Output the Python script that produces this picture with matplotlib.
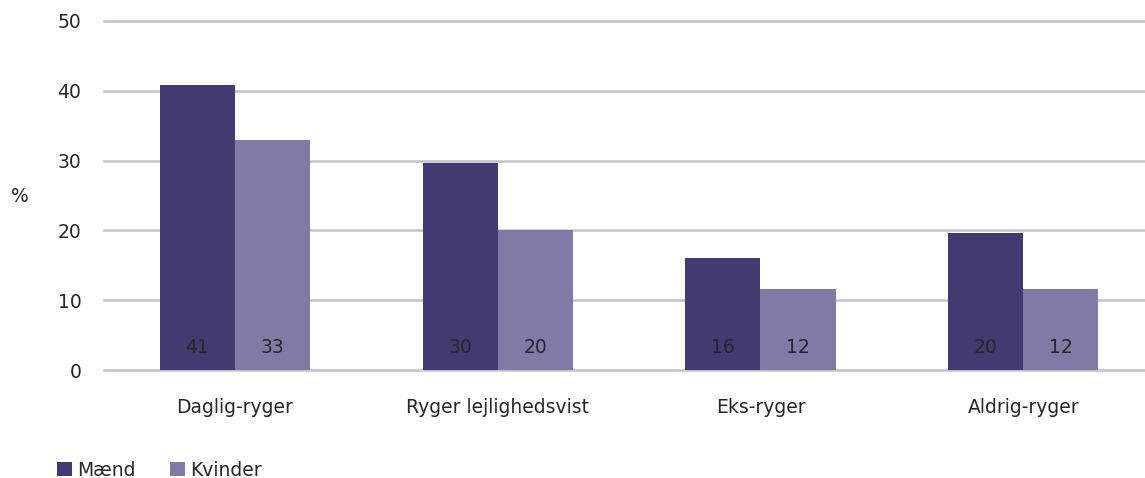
import matplotlib.pyplot as plt
import numpy as np

categories = ["Daglig-ryger", "Ryger lejlighedsvist", "Eks-ryger", "Aldrig-ryger"]
maend = [40.8, 29.7, 16.0, 19.6]
kvinder = [33.0, 20.0, 11.6, 11.6]
maend_labels = ["41", "30", "16", "20"]
kvinder_labels = ["33", "20", "12", "12"]

c_m = "#433a72"
c_k = "#7f7ba6"
txt = "#262626"
grid = "#c0c4ca"

plt.rcParams['font.family'] = ['DejaVu Sans']

fig = plt.figure(figsize=(11.45, 4.78), dpi=100)
ax = fig.add_axes([103.6 / 1145, 1 - 370 / 478, 1051 / 1145, 349 / 478])

x = np.arange(len(categories))
w = 0.286
b1 = ax.bar(x - w / 2, maend, w, color=c_m, label="Mænd", zorder=3)
b2 = ax.bar(x + w / 2, kvinder, w, color=c_k, label="Kvinder", zorder=3)

for bars, labs in ((b1, maend_labels), (b2, kvinder_labels)):
    for r, lab in zip(bars, labs):
        ax.text(r.get_x() + r.get_width() / 2, 3.2, lab, ha="center", va="center",
                fontsize=13.5, color=txt, zorder=4)

ax.set_xlim(-0.5, len(categories) - 0.5)
ax.set_ylim(0, 50)
ax.set_yticks(range(0, 51, 10))
ax.yaxis.grid(True, color=grid, linewidth=1.8, zorder=0)
for gl in ax.get_ygridlines():
    gl.set_clip_on(False)
ax.set_axisbelow(True)
for s in ax.spines.values():
    s.set_visible(False)
ax.tick_params(length=0, labelsize=13.5, colors=txt)
ax.tick_params(axis="y", pad=16)
ax.tick_params(axis="x", pad=20)
ax.set_xticks(x)
ax.set_xticklabels(categories)
fig.text(20 / 1145, 1 - 197 / 478, "%", ha="center", va="center", fontsize=13.5, color=txt)

fig.legend(handles=[b1, b2], loc="center left", bbox_to_anchor=(0.043, 1 - 470 / 478),
           ncol=2, frameon=False, fontsize=13.5, handlelength=0.8, handleheight=0.8,
           handletextpad=0.3, columnspacing=1.8, labelcolor=txt, borderaxespad=0)

fig.savefig("out.png", dpi=100)
